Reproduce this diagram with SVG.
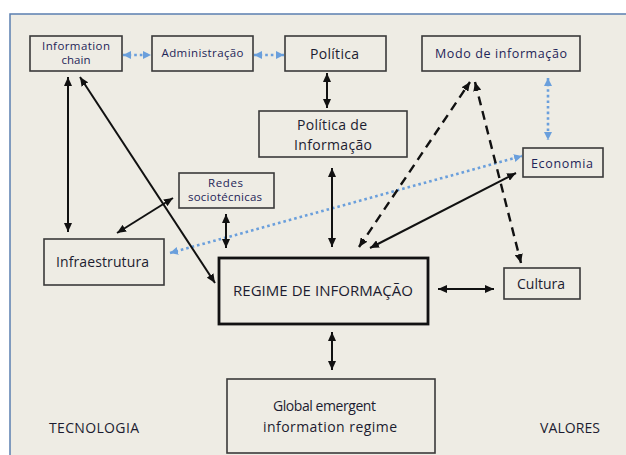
<svg xmlns="http://www.w3.org/2000/svg" width="626" height="455" viewBox="0 0 626 455">
<style>
.box{fill:none;stroke:#3a3a3a;stroke-width:1.6}
.big{fill:none;stroke:#111;stroke-width:2.8}
.t{font-family:"Open Sans",Lato,sans-serif;fill:#1c1c30;text-anchor:middle}
.s{font-size:11.5px;fill:#1e2558}
.n{font-size:12.5px;fill:#1e2558}
.m{font-size:14px}
.solid{stroke:#111;stroke-width:2;fill:none;marker-start:url(#ab);marker-end:url(#ab)}
.dash{stroke:#111;stroke-width:2.4;fill:none;stroke-dasharray:9,6;marker-start:url(#ab);marker-end:url(#ab)}
.dot{stroke:#6a9fdc;stroke-width:2.6;fill:none;stroke-dasharray:2.6,3;marker-start:url(#ad);marker-end:url(#ad)}
</style>
<defs>
<marker id="ab" viewBox="0 0 9 8" refX="9" refY="4" markerWidth="9" markerHeight="8" markerUnits="userSpaceOnUse" orient="auto-start-reverse"><path d="M0,0 L9,4 L0,8 z" fill="#111"/></marker>
<marker id="ad" viewBox="0 0 8 8" refX="8" refY="4" markerWidth="8" markerHeight="8" markerUnits="userSpaceOnUse" orient="auto-start-reverse"><path d="M0,0 L8,4 L0,8 z" fill="#6a9fdc"/></marker>
</defs>
<rect x="0" y="0" width="626" height="455" fill="#ffffff"/>
<rect x="10" y="14" width="630" height="460" fill="#eeece4" stroke="#5b7fb0" stroke-width="1.5"/>
<g id="connectors">
<line class="dot" x1="123" y1="55" x2="151" y2="55"/>
<line class="dot" x1="254" y1="55" x2="284" y2="55"/>
<line class="dot" x1="548" y1="78" x2="548" y2="140"/>
<line class="dot" x1="170" y1="253" x2="522" y2="156"/>
<line class="solid" x1="327" y1="73" x2="327" y2="108"/>
<line class="solid" x1="68" y1="77" x2="68" y2="232"/>
<line class="solid" x1="80" y1="77" x2="215" y2="283"/>
<line class="solid" x1="173" y1="198" x2="117" y2="233"/>
<line class="solid" x1="226" y1="214" x2="226" y2="248"/>
<line class="solid" x1="332" y1="168" x2="332" y2="247"/>
<line class="solid" x1="370" y1="248" x2="516" y2="173"/>
<line class="solid" x1="438" y1="289" x2="494" y2="289"/>
<line class="solid" x1="332" y1="332" x2="332" y2="370"/>
<line class="dash" x1="359" y1="247" x2="470" y2="82"/>
<line class="dash" x1="475" y1="82" x2="521" y2="263"/>
</g>
<g id="information-chain"><rect class="box" x="30" y="36" width="92" height="35"/><text class="t s" x="76" y="49.5" textLength="68">Information</text><text class="t s" x="76" y="63.5" textLength="29">chain</text></g>
<g id="administracao"><rect class="box" x="152" y="36" width="101" height="35"/><text class="t s" x="202.5" y="57" textLength="82">Administração</text></g>
<g id="politica"><rect class="box" x="285" y="36" width="101" height="35"/><text class="t m" x="334.5" y="58.5" textLength="49">Política</text></g>
<g id="modo"><rect class="box" x="422" y="36" width="158" height="35"/><text class="t n" x="501" y="57.5" textLength="132">Modo de informação</text></g>
<g id="politica-informacao"><rect class="box" x="259" y="111" width="148" height="46"/><text class="t m" x="332" y="130" textLength="70">Política de</text><text class="t m" x="333" y="149.5" textLength="78">Informação</text></g>
<g id="economia"><rect class="box" x="523" y="148" width="80" height="29"/><text class="t n" x="562" y="167.5" textLength="62">Economia</text></g>
<g id="redes"><rect class="box" x="179" y="173" width="95" height="35"/><text class="t s" x="225.5" y="186.5" textLength="35">Redes</text><text class="t s" x="225" y="200.5" textLength="74">sociotécnicas</text></g>
<g id="infraestrutura"><rect class="box" x="44" y="239" width="120" height="46"/><text class="t m" x="102.5" y="266.5" textLength="93">Infraestrutura</text></g>
<g id="regime"><rect class="big" x="219" y="258" width="209" height="66"/><text class="t" style="font-size:15px" x="323" y="296" textLength="180">REGIME DE INFORMAÇÃO</text></g>
<g id="cultura"><rect class="box" x="504" y="268" width="76" height="31"/><text class="t m" x="541" y="288.5" textLength="48">Cultura</text></g>
<g id="global"><rect class="box" x="227" y="379" width="208" height="74"/><text class="t m" x="324.5" y="410.5" textLength="103">Global emergent</text><text class="t m" x="330" y="431.5" textLength="134">information regime</text></g>
<text class="t m" x="94" y="433" textLength="90">TECNOLOGIA</text>
<text class="t m" x="570" y="433" textLength="60">VALORES</text>
</svg>
